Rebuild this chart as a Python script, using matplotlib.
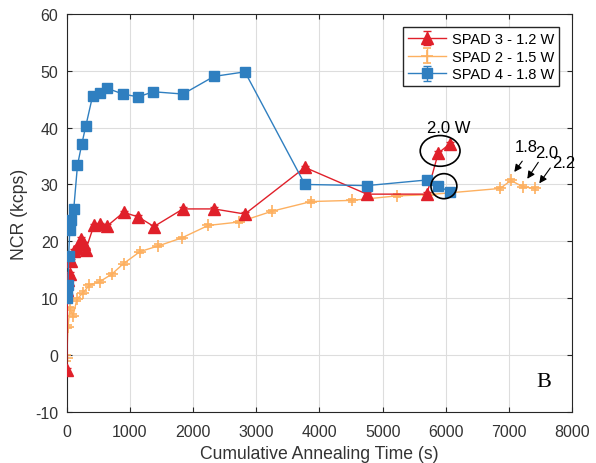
import numpy as np
import matplotlib.pyplot as plt
from matplotlib.patches import Ellipse

plt.rcParams['font.family'] = ['Liberation Sans', 'DejaVu Sans']
plt.rcParams['axes.unicode_minus'] = False

# SPAD 3 - 1.2 W
t3 = [0, 10, 20, 45, 70, 110, 160, 230, 270, 300, 430, 530, 640, 900, 1130, 1380,
      1840, 2330, 2820, 3770, 4750, 5700, 5880, 6070]
v3 = [-2.6, 11.5, 13.2, 14.3, 16.6, 18.3, 18.8, 20.4, 19.6, 18.5, 22.8, 23.0, 22.7, 25.1,
      24.3, 22.6, 25.7, 25.7, 24.8, 33.0, 28.3, 28.3, 35.5, 37.2]
# SPAD 2 - 1.5 W
t2 = [0, 20, 50, 100, 160, 260, 360, 520, 710, 900, 1160, 1450, 1820, 2240, 2730,
      3250, 3870, 4510, 5230, 5720, 6860, 7030, 7220, 7410]
v2 = [-0.5, 5.0, 8.2, 6.9, 9.8, 11.0, 12.3, 12.9, 14.2, 16.1, 18.2, 19.2, 20.6, 22.8,
      23.4, 25.3, 27.0, 27.2, 28.0, 28.2, 29.3, 30.7, 29.6, 29.3]
# SPAD 4 - 1.8 W
t4 = [0, 10, 20, 30, 48, 60, 110, 170, 240, 300, 410, 530, 640, 890, 1130, 1370,
      1840, 2330, 2820, 3770, 4750, 5710, 5880, 6070]
v4 = [10.0, 11.6, 12.4, 17.4, 22.0, 23.8, 25.6, 33.4, 37.2, 40.2, 45.6, 46.1, 46.9,
      45.9, 45.4, 46.3, 45.9, 49.0, 49.8, 30.0, 29.8, 30.8, 29.8, 28.6]

fig = plt.figure(figsize=(5.96, 4.64), dpi=100)
ax = fig.add_axes([0.112, 0.110, 0.848, 0.858])

red = '#e0202a'
orange = '#fdb060'
blue = '#2f7fc0'

ax.errorbar(t3, v3, yerr=0.3, color=red, marker='^', ms=8.5, lw=1.0, capsize=3,
            label='SPAD 3 - 1.2 W', zorder=3)
ax.errorbar(t2, v2, yerr=np.r_[0.6, np.full(len(t2) - 1, 0.25)], color=orange, marker='+',
            ms=8, mew=1.2, lw=1.0, capsize=3, label='SPAD 2 - 1.5 W', zorder=2)
ax.errorbar(t4, v4, yerr=0.3, color=blue, marker='s', ms=6.5, lw=1.0, capsize=3,
            label='SPAD 4 - 1.8 W', zorder=3)

ax.add_patch(Ellipse((5910, 35.9), 630, 5.4, fill=False, ec='black', lw=1.2, zorder=4))
ax.add_patch(Ellipse((5970, 29.7), 410, 4.4, fill=False, ec='black', lw=1.2, zorder=4))
ax.text(6040, 40.0, '2.0 W', fontsize=12, ha='center', va='center')

ann = [('1.8', (7274, 36.6), (7210, 34.1), (7084, 32.2)),
       ('2.0', (7591, 35.7), (7464, 33.9), (7290, 31.0)),
       ('2.2', (7860, 33.9), (7654, 32.9), (7480, 30.2))]
for s, tp, tail, head in ann:
    ax.text(tp[0], tp[1], s, fontsize=12, ha='center', va='center')
    ax.annotate('', xy=head, xytext=tail,
                arrowprops=dict(arrowstyle='-|>', color='black', lw=0.8, mutation_scale=11,
                                shrinkA=0, shrinkB=0))

ax.text(7545, -4.6, 'B', fontsize=16, family='Liberation Serif', ha='center', va='center')

ax.set_xlim(0, 8000)
ax.set_ylim(-10, 60)
ax.set_xticks(np.arange(0, 8001, 1000))
ax.set_yticks(np.arange(-10, 61, 10))
ax.grid(True, color='#dddddd', lw=0.8)
ax.set_axisbelow(True)
ax.tick_params(direction='in', labelsize=11.5, colors='#262626', top=True, right=True,
               labelcolor='#333333', pad=6)
ax.tick_params(axis='x', pad=9)
for sp in ax.spines.values():
    sp.set_color('#262626')
ax.set_xlabel('Cumulative Annealing Time (s)', fontsize=12.7, color='#333333')
ax.xaxis.set_label_coords(0.5, -0.082)
ax.set_ylabel('NCR (kcps)', fontsize=12.7, color='#333333')
ax.yaxis.set_label_coords(-0.076, 0.5)

leg = ax.legend(loc='upper right', fontsize=10.5, fancybox=False, edgecolor='#262626',
                framealpha=1, borderaxespad=0.9, handlelength=2.6, labelspacing=0.25,
                handletextpad=0.4, borderpad=0.35)
leg.get_frame().set_linewidth(1.0)

fig.savefig('out.png', dpi=100)
